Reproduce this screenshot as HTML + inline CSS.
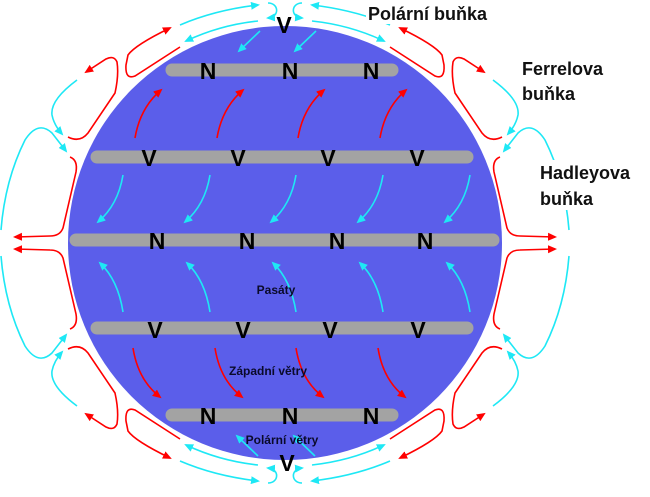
<!DOCTYPE html>
<html><head><meta charset="utf-8"><style>
html,body{margin:0;padding:0;background:#fff;}
svg{display:block;}
.l{font-family:"Liberation Sans",sans-serif;font-weight:bold;font-size:23px;fill:#000;text-anchor:middle;}
.s{font-family:"Liberation Sans",sans-serif;font-size:12px;font-weight:bold;fill:#0a0a2a;text-anchor:middle;}
.t{font-family:"Liberation Sans",sans-serif;font-size:18px;font-weight:bold;fill:#111;}
.c{fill:none;stroke:#1ee8f5;stroke-width:1.6;marker-end:url(#mc);}
.r{fill:none;stroke:#f00;stroke-width:1.6;marker-end:url(#mr);}
</style></head><body>
<svg width="650" height="497" viewBox="0 0 650 497" xmlns="http://www.w3.org/2000/svg">
<defs>
<marker id="mc" markerWidth="10" markerHeight="10" refX="7" refY="4" orient="auto" markerUnits="userSpaceOnUse"><path d="M0,0 L9,4 L0,8 Z" fill="#1ee8f5"/></marker>
<marker id="mr" markerWidth="10" markerHeight="10" refX="7" refY="4" orient="auto" markerUnits="userSpaceOnUse"><path d="M0,0 L9,4 L0,8 Z" fill="#f00"/></marker>
<g id="q">
<path class="c" d="M180,25 Q215,10 258,5"/>
<path class="c" d="M268,3 C279,3 280,17 268,18"/>
<path class="c" d="M258,21 Q220,25 186,41"/>
<path class="r" d="M180,47 L135,76 Q125,80 126,65 L128,55 Q135,45 170,28"/>
<path class="r" d="M68,137 Q80,143 88,133 L115,93 Q119,75 117,62 Q114,55 106,59 L86,72"/>
<path class="c" d="M77,80 Q50,100 52,115 Q54,125 62,134"/>
<path class="c" d="M1,230 Q5,180 25,140 Q38,120 52,133 L66,151"/>
<path class="r" d="M70,157 Q78,160 76,172 L63,228 Q60,236 50,236 L15,237"/>
</g>
</defs>
<circle cx="285" cy="243" r="217" fill="#5b5eea"/>
<g stroke="#a3a3a3" stroke-width="13" stroke-linecap="round">
<line x1="172" y1="70" x2="392" y2="70"/>
<line x1="97" y1="157" x2="467" y2="157"/>
<line x1="76" y1="240" x2="493" y2="240"/>
<line x1="97" y1="328" x2="467" y2="328"/>
<line x1="172" y1="415" x2="392" y2="415"/>
</g>
<use href="#q"/>
<use href="#q" transform="translate(570,0) scale(-1,1)"/>
<use href="#q" transform="translate(0,486) scale(1,-1)"/>
<use href="#q" transform="translate(570,486) scale(-1,-1)"/>
<path class="c" d="M260,31 L239,51"/><path class="c" d="M316,31 L295,51"/>
<path class="c" d="M258,456 L237,436"/><path class="c" d="M315,456 L294,436"/>
<g id="rf"><path class="r" d="M135,138 Q140,108 161,90"/></g>
<use href="#rf" x="82"/><use href="#rf" x="163"/><use href="#rf" x="245"/>
<g id="ch"><path class="c" d="M123,175 Q118,205 98,222"/></g>
<use href="#ch" x="87"/><use href="#ch" x="173"/><use href="#ch" x="260"/><use href="#ch" x="347"/>
<g id="cs"><path class="c" d="M123,312 Q118,280 100,263"/></g>
<use href="#cs" x="87"/><use href="#cs" x="173"/><use href="#cs" x="260"/><use href="#cs" x="347"/>
<g id="rs"><path class="r" d="M133,348 Q138,380 160,397"/></g>
<use href="#rs" x="82"/><use href="#rs" x="163"/><use href="#rs" x="245"/>
<text class="l" x="284" y="33">V</text>
<text class="l" x="208" y="79">N</text><text class="l" x="290" y="79">N</text><text class="l" x="371" y="79">N</text>
<text class="l" x="149" y="166">V</text><text class="l" x="238" y="166">V</text><text class="l" x="328" y="166">V</text><text class="l" x="417" y="166">V</text>
<text class="l" x="157" y="249">N</text><text class="l" x="247" y="249">N</text><text class="l" x="337" y="249">N</text><text class="l" x="425" y="249">N</text>
<text class="l" x="155" y="338">V</text><text class="l" x="243" y="338">V</text><text class="l" x="330" y="338">V</text><text class="l" x="418" y="338">V</text>
<text class="l" x="208" y="424">N</text><text class="l" x="290" y="424">N</text><text class="l" x="371" y="424">N</text>
<text class="l" x="287" y="471">V</text>
<text class="s" x="276" y="294">Pasáty</text>
<text class="s" x="268" y="375">Západní větry</text>
<text class="s" x="282" y="444">Polární větry</text>
<g>
<rect x="366" y="2" width="132" height="22" fill="#fff"/>
<text class="t" x="368" y="20">Polární buňka</text>
<rect x="520" y="56" width="80" height="46" fill="#fff"/>
<text class="t" x="522" y="75">Ferrelova</text>
<text class="t" x="522" y="100">buňka</text>
<rect x="538" y="160" width="90" height="50" fill="#fff"/>
<text class="t" x="540" y="179">Hadleyova</text>
<text class="t" x="540" y="205">buňka</text>
</g>
</svg>
</body></html>
